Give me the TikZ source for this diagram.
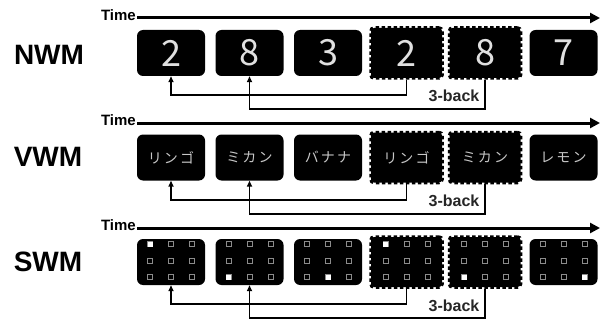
\documentclass[tikz,border=0pt]{standalone}
\usepackage{fontspec}
\setmainfont{Liberation Sans}
\newfontfamily\jpfont{Noto Sans CJK JP}
\newfontfamily\jpwide{Noto Sans CJK JP}[LetterSpace=15]
\usetikzlibrary{arrows.meta}

\begin{document}
\begin{tikzpicture}[x=1pt, y=-1pt,
    item/.style={fill=black, rounded corners=6pt, minimum width=68pt, minimum height=46pt,
      inner sep=0pt, text=white!88!black},
    probe/.style={item, draw=black, line width=3.5pt, dash pattern=on 3.5pt off 2.5pt,
      rounded corners=3pt, minimum width=71pt, minimum height=50pt},
    digit/.style={font=\jpfont\fontsize{36}{36}\selectfont},
    kana/.style={font=\jpwide\fontsize{14}{14}\selectfont, text=white!78!black},
    rowlbl/.style={font=\bfseries\fontsize{28}{30}\selectfont},
    timelbl/.style={font=\bfseries\fontsize{15}{16}\selectfont, anchor=east, inner sep=1pt},
    timeline/.style={line width=3pt, -{Triangle[length=10pt,width=10pt]}},
    back/.style={line width=1.6pt, -{Triangle[length=6pt,width=5pt]}},
    backlbl/.style={font=\bfseries\fontsize{16}{17}\selectfont, text=black!85},
    cell/.style={draw=black!45, line width=0.7pt}]
  \useasboundingbox (0,0) rectangle (605,321);

  % NWM
  \node[rowlbl] (nwm) at (49,55) {NWM};
  \node[timelbl] (tn) at (137,15.5) {Time};
  \coordinate (tnend) at (600,18);
  \draw[timeline] (tn.east |- tnend) -- (tnend);
  \node[item, digit] (n1) at (171,53) {2};
  \node[item, digit] (n2) at (249.5,53) {8};
  \node[item, digit] (n3) at (328,53) {3};
  \node[probe, digit] (n4) at (406.5,53) {2};
  \node[probe, digit] (n5) at (485,53) {8};
  \node[item, digit] (n6) at (563.5,53) {7};
  \draw[back] (n4.south) |- ([yshift=-19pt]n1.south) -- (n1.south);
  \draw[back] (n5.south) |- ([yshift=-33pt]n2.south) -- (n2.south);
  \node[backlbl] (nb) at (454,96) {3-back};

  % VWM
  \node[rowlbl] (vwm) at (48,157) {VWM};
  \node[timelbl] (tv) at (137,120.5) {Time};
  \coordinate (tvend) at (600,123);
  \draw[timeline] (tv.east |- tvend) -- (tvend);
  \node[item, kana] (v1) at (171,157.5) {リンゴ};
  \node[item, kana] (v2) at (249.5,157.5) {ミカン};
  \node[item, kana] (v3) at (328,157.5) {バナナ};
  \node[probe, kana] (v4) at (406.5,157.5) {リンゴ};
  \node[probe, kana] (v5) at (485,157.5) {ミカン};
  \node[item, kana] (v6) at (563.5,157.5) {レモン};
  \draw[back] (v4.south) |- ([yshift=-19pt]v1.south) -- (v1.south);
  \draw[back] (v5.south) |- ([yshift=-33pt]v2.south) -- (v2.south);
  \node[backlbl] (vb) at (454,201) {3-back};

  % SWM
  \node[rowlbl] (swm) at (48,262) {SWM};
  \node[timelbl] (ts) at (137,225.5) {Time};
  \coordinate (tsend) at (600,228);
  \draw[timeline] (ts.east |- tsend) -- (tsend);
  \node[item] (s1) at (171,262) {};
  \node[item] (s2) at (249.5,262) {};
  \node[item] (s3) at (328,262) {};
  \node[probe] (s4) at (406.5,262) {};
  \node[probe] (s5) at (485,262) {};
  \node[item] (s6) at (563.5,262) {};
  \foreach \c in {1,...,6}
    \foreach \i in {-1,0,1}
      \foreach \j in {-1,0,1}
        \draw[cell] ([shift={(21*\i-2.5,16.5*\j-4)}]s\c.center) rectangle +(5,5);
  \foreach \c/\wi/\wj in {1/-1/-1, 2/-1/1, 3/0/1, 4/-1/-1, 5/-1/1, 6/1/1}
    \fill[white] ([shift={(21*\wi-2.5,16.5*\wj-4)}]s\c.center) rectangle +(5,5);
  \draw[back] (s4.south) |- ([yshift=-19pt]s1.south) -- (s1.south);
  \draw[back] (s5.south) |- ([yshift=-33pt]s2.south) -- (s2.south);
  \node[backlbl] (sb) at (454,306) {3-back};
\end{tikzpicture}
\end{document}
